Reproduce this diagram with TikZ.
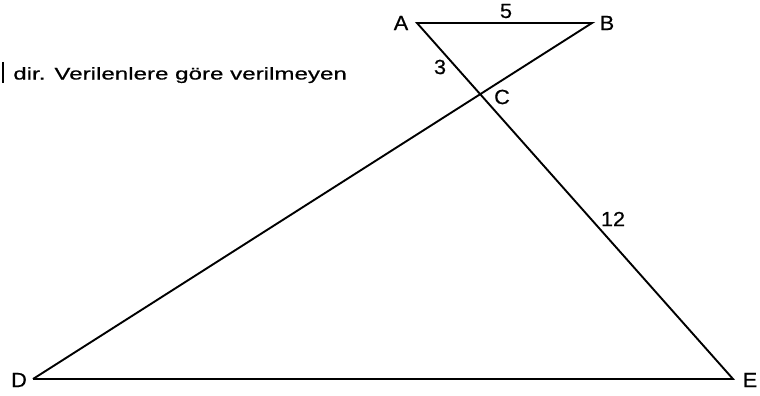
\documentclass[tikz,border=0pt]{standalone}
\usepackage{fontspec}
\setmainfont{Liberation Sans}[FakeBold=0.5]
\begin{document}
\begin{tikzpicture}[x=1pt,y=-1pt,
  edge/.style={line width=1.9pt,black},
  lbl/.style={font=\fontsize{20.5}{24}\selectfont,inner sep=0pt,xscale=1.06,transform shape},
  txt/.style={font=\fontsize{17}{20}\selectfont,inner sep=0pt,anchor=base west,xscale=1.42,transform shape}]
\useasboundingbox (0,0) rectangle (760,396);
\coordinate (A) at (417,23);
\coordinate (B) at (592,23);
\coordinate (D) at (33,379);
\coordinate (E) at (733,379);
\coordinate (C) at (480,95);
\draw[edge,line join=miter] (D) -- (E) -- (A) -- (B) -- (D);
\node[lbl] (lA) at (401,23) {A};
\node[lbl] (lB) at (607,23) {B};
\node[lbl] (lC) at (502,97) {C};
\node[lbl] (lD) at (19,380) {D};
\node[lbl] (lE) at (750,380) {E};
\node[lbl] (l5) at (506,11) {5};
\node[lbl] (l3) at (440,67) {3};
\node[lbl] (l12) at (613,219) {12};
\coordinate (bar1) at (3,62);
\coordinate (bar2) at (3,83);
\draw[line width=2.2pt] (bar1) -- (bar2);
\node[txt] (t) at (13,79.5) {dir. Verilenlere göre verilmeyen};
\end{tikzpicture}
\end{document}
